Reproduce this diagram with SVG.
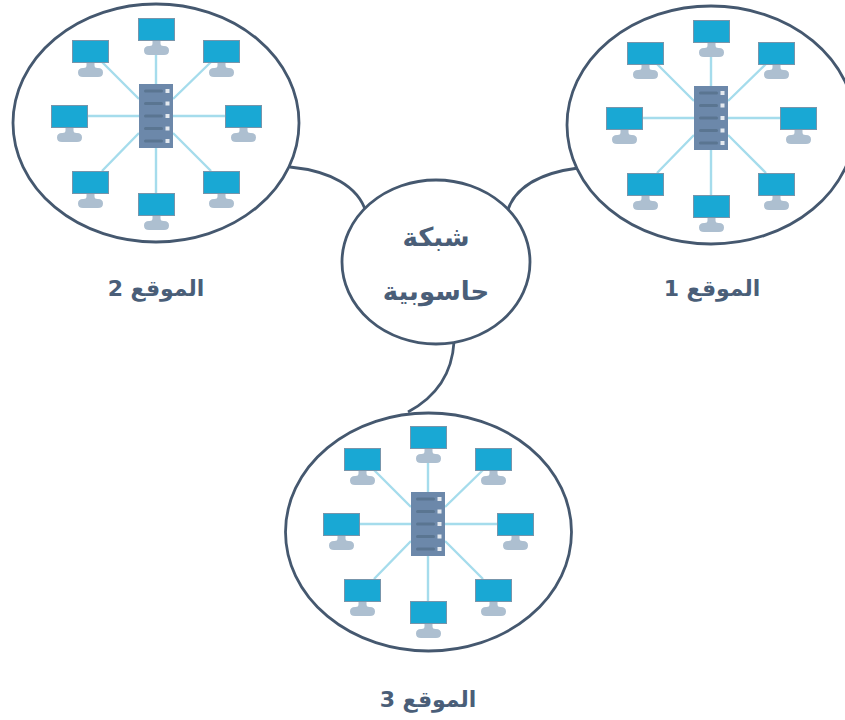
<svg xmlns="http://www.w3.org/2000/svg" width="845" height="720" viewBox="0 0 845 720">
<style>
.site{fill:#fff;stroke:#45586f;stroke-width:2.800}
.link{fill:none;stroke:#45586f;stroke-width:2.800}
.spoke{fill:none;stroke:#a5dcec;stroke-width:2.400}
.scr{fill:#19a8d4;stroke:#7795ab;stroke-width:1}
.stand{fill:#adbfd0}
.srv{fill:#6c88aa}
.bar{fill:#5a7591}
.dot{fill:#e4e9ef}
text{font-family:"DejaVu Sans","Noto Sans",sans-serif;font-weight:700;fill:#4a5e78;text-anchor:middle;direction:rtl}
.lab{font-size:22px}
.big{font-size:26px}
</style>
<defs>
<g id="mon">
<path class="stand" d="M14.500 22h8v3.500q0 2.500 3 2.500h0.500q5 0 5 4.500t-5 4.500h-15q-5 0-5-4.500t5-4.500h0.500q3 0 3-2.500z"/>
<rect class="scr" x="0.500" y="0.500" width="36" height="22"/>
</g>
<g id="srv">
<rect class="srv" width="34" height="64"/>
<g class="bar"><rect x="5" y="5.500" width="19" height="3" rx="1.500"/><rect x="5" y="18" width="19" height="3" rx="1.500"/><rect x="5" y="30.500" width="19" height="3" rx="1.500"/><rect x="5" y="43" width="19" height="3" rx="1.500"/><rect x="5" y="55.500" width="19" height="3" rx="1.500"/></g>
<g class="dot"><rect x="26.500" y="5" width="4" height="4"/><rect x="26.500" y="17.500" width="4" height="4"/><rect x="26.500" y="30" width="4" height="4"/><rect x="26.500" y="42.500" width="4" height="4"/><rect x="26.500" y="55" width="4" height="4"/></g>
</g>
<g id="spk" class="spoke">
<path d="M87 116H139M173 116H225M156 41V84M156 148V193M102 62L139 99M211 62L173 99M102 171L139 133M211 171L173 133"/>
</g>
<g id="mons">
<use href="#mon" x="138" y="18"/>
<use href="#mon" x="203" y="40"/>
<use href="#mon" x="225" y="105"/>
<use href="#mon" x="203" y="171"/>
<use href="#mon" x="138" y="193"/>
<use href="#mon" x="72" y="171"/>
<use href="#mon" x="51" y="105"/>
<use href="#mon" x="72" y="40"/>
</g>
</defs>
<g id="connectors">
<path class="link" d="M290 167C330 171 358 186 366 212"/>
<path class="link" d="M578 168C540 173 515 186 507 212"/>
<path class="link" d="M454 342C452 376 434 398 408 412"/>
</g>
<g id="site2">
<ellipse class="site" cx="156" cy="123" rx="143" ry="119"/>
<use href="#spk"/><use href="#mons"/><use href="#srv" x="139" y="84"/>
</g>
<g id="site1">
<ellipse class="site" cx="711" cy="125" rx="144" ry="119"/>
<use href="#spk" x="555" y="2"/><use href="#mons" x="555" y="2"/><use href="#srv" x="694" y="86"/>
</g>
<g id="site3">
<ellipse class="site" cx="428.500" cy="532" rx="143" ry="119"/>
<use href="#spk" x="272" y="408"/><use href="#mons" x="272" y="408"/><use href="#srv" x="411" y="492"/>
</g>
<g id="network">
<ellipse class="site" cx="436" cy="262" rx="94" ry="82"/>
<text class="big" x="436" y="246">شبكة</text>
<text class="big" x="436" y="300">حاسوبية</text>
</g>
<g id="label1"><text class="lab" x="712" y="296">الموقع 1</text></g>
<g id="label2"><text class="lab" x="156" y="296">الموقع 2</text></g>
<g id="label3"><text class="lab" x="428" y="707">الموقع 3</text></g>
</svg>
